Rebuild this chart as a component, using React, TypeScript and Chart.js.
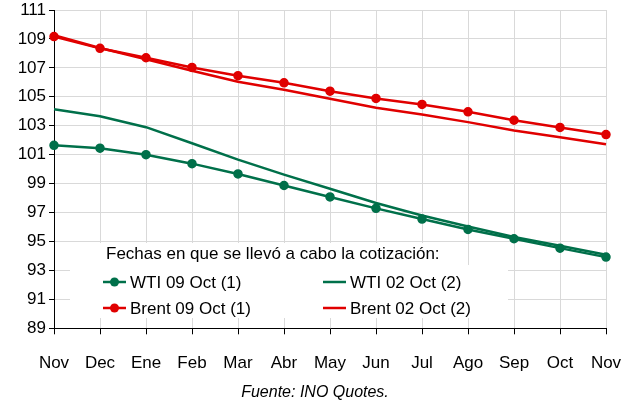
import React, { useEffect, useRef } from "react";
import { Chart, registerables } from "chart.js";

Chart.register(...registerables);

const months = ["Nov", "Dec", "Ene", "Feb", "Mar", "Abr", "May", "Jun", "Jul", "Ago", "Sep", "Oct", "Nov"];

const wti09 = [101.65, 101.45, 101.0, 100.38, 99.67, 98.87, 98.08, 97.29, 96.55, 95.83, 95.19, 94.54, 93.92];
const wti02 = [104.14, 103.66, 102.9, 101.79, 100.66, 99.62, 98.65, 97.66, 96.8, 96.04, 95.31, 94.7, 94.08];
const brent09 = [109.16, 108.35, 107.7, 107.03, 106.46, 105.97, 105.39, 104.89, 104.47, 103.96, 103.38, 102.88, 102.39];
const brent02 = [109.25, 108.37, 107.59, 106.8, 106.04, 105.49, 104.86, 104.24, 103.78, 103.25, 102.67, 102.21, 101.72];

const legendTitle = "Fechas en que se llevó a cabo la cotización:";
const sourceNote = "Fuente: INO Quotes.";

const GREEN = "#00704a";
const RED = "#e00000";
const FONT = "'Liberation Sans', Arial, sans-serif";

const legendPlugin = {
  id: "boxLegend",
  afterDraw(chart: any) {
    const ctx = chart.ctx;
    ctx.save();
    ctx.font = `17px ${FONT}`;
    const titleX = 106;
    const titleY = 254;
    const tw = ctx.measureText(legendTitle).width;
    ctx.fillStyle = "#ffffff";
    ctx.fillRect(titleX - 6, 243, tw + 10, 23);
    ctx.fillRect(70, 265, 438, 53);
    ctx.fillStyle = "#000";
    ctx.textBaseline = "middle";
    ctx.textAlign = "left";
    ctx.fillText(legendTitle, titleX, titleY);
    const colSample = [103, 323];
    const rowY = [282, 308];
    chart.data.datasets.forEach((ds: any, i: number) => {
      const col = i % 2;
      const row = Math.floor(i / 2);
      const x0 = colSample[col];
      const y = rowY[row];
      ctx.strokeStyle = ds.borderColor;
      ctx.lineWidth = 2.5;
      ctx.beginPath();
      ctx.moveTo(x0, y);
      ctx.lineTo(x0 + 23, y);
      ctx.stroke();
      if (ds.pointRadius > 0) {
        ctx.fillStyle = ds.borderColor;
        ctx.beginPath();
        ctx.arc(x0 + 11.5, y, 4.5, 0, Math.PI * 2);
        ctx.fill();
      }
      ctx.fillStyle = "#000";
      ctx.fillText(ds.label, x0 + 27, y + 1);
    });
    ctx.font = `italic 16px ${FONT}`;
    ctx.textAlign = "center";
    ctx.fillText(sourceNote, 315, 393);
    ctx.restore();
  },
};

export default function App() {
  const ref = useRef<HTMLCanvasElement>(null);
  useEffect(() => {
    document.body.style.margin = "0";
    const canvas = ref.current!;
    Chart.defaults.font.family = FONT;
    const chart = new Chart(canvas, {
      type: "line",
      data: {
        labels: months,
        datasets: [
          { label: "WTI 09 Oct (1)", data: wti09, borderColor: GREEN, backgroundColor: GREEN, borderWidth: 2.5, pointRadius: 4, pointBorderWidth: 1.5, pointBackgroundColor: GREEN, pointBorderColor: GREEN, tension: 0 },
          { label: "WTI 02 Oct (2)", data: wti02, borderColor: GREEN, backgroundColor: GREEN, borderWidth: 2.5, pointRadius: 0, tension: 0 },
          { label: "Brent 09 Oct (1)", data: brent09, borderColor: RED, backgroundColor: RED, borderWidth: 2.5, pointRadius: 4, pointBorderWidth: 1.5, pointBackgroundColor: RED, pointBorderColor: RED, tension: 0 },
          { label: "Brent 02 Oct (2)", data: brent02, borderColor: RED, backgroundColor: RED, borderWidth: 2.5, pointRadius: 0, tension: 0 },
        ],
      },
      options: {
        responsive: false,
        animation: false,
        layout: { padding: { left: 0, right: 23, top: 10, bottom: 0 } },
        plugins: {
          legend: { display: false },
          tooltip: { enabled: false },
          title: { display: false },
        },
        scales: {
          x: {
            offset: false,
            grid: { color: "#d9d9d9", lineWidth: 1, tickColor: "#000", tickLength: 6, drawTicks: true },
            border: { color: "#000", width: 1 },
            ticks: { color: "#000", font: { size: 17 }, padding: 19, maxRotation: 0, autoSkip: false },
            afterFit: (s: any) => { s.height = 73.7; s.paddingLeft = 0; s.paddingRight = 0; },
          },
          y: {
            min: 89,
            max: 111,
            grid: { color: "#d9d9d9", lineWidth: 1, tickColor: "#000", tickLength: 5, drawTicks: true },
            border: { color: "#000", width: 1 },
            ticks: { color: "#000", font: { size: 17 }, stepSize: 2, padding: 3 },
            afterFit: (s: any) => { s.width = 54; s.paddingTop = 0; s.paddingBottom = 0; },
          },
        },
      },
      plugins: [legendPlugin],
    });
    return () => chart.destroy();
  }, []);
  return (
    <div style={{ width: 629, height: 402 }}>
      <canvas ref={ref} width={629} height={402} style={{ display: "block" }} />
    </div>
  );
}
